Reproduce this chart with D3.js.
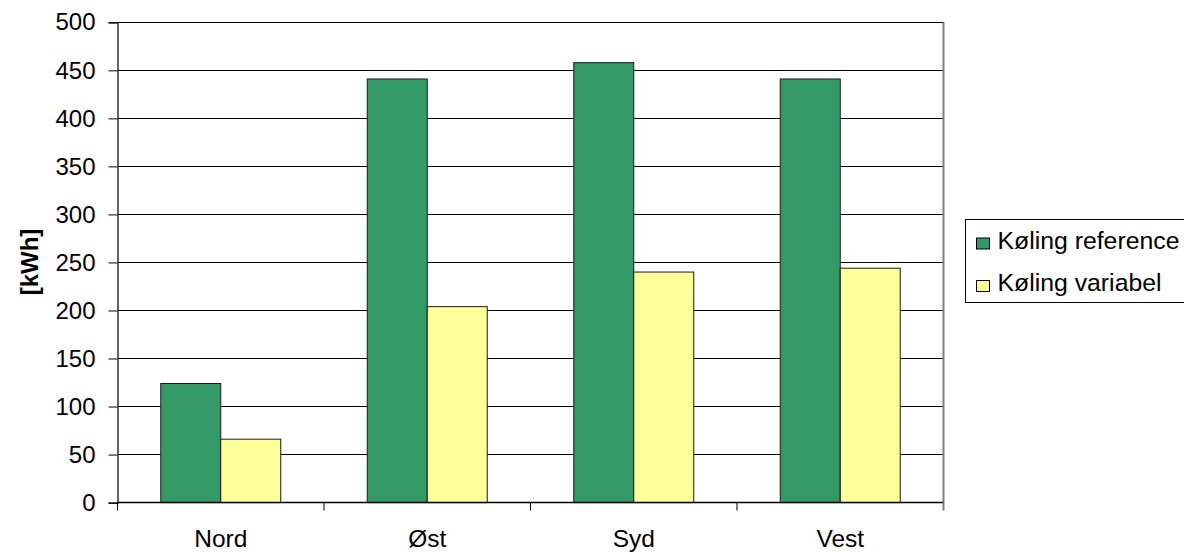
<!DOCTYPE html>
<html>
<head>
<meta charset="utf-8">
<script src="https://cdn.jsdelivr.net/npm/d3@7"></script>
<style>
  html, body { margin: 0; padding: 0; background: #fff; }
  svg { display: block; font-family: "Liberation Sans", Arial, sans-serif; }
</style>
</head>
<body>
<svg id="chart" width="1184" height="552"></svg>
<script>
// Cooling energy per facade orientation
const categories = ["Nord", "Øst", "Syd", "Vest"];
const seriesNames = ["Køling reference", "Køling variabel"];
const referenceValues = [124, 441, 458, 441];
const variableValues = [66, 204, 240, 244];
const yTicks = [0, 50, 100, 150, 200, 250, 300, 350, 400, 450, 500];
const seriesColors = ["#339966", "#FFFF99"];

const seriesValues = [referenceValues, variableValues];
const FONT = "'Liberation Sans', Arial, sans-serif";
const FS = 24;

const svg = d3.select("#chart");
const plot = { left: 117.5, right: 943.5, top: 22.3, bottom: 502.6 };

const x0 = d3.scaleBand().domain(categories).range([plot.left, plot.right]).padding(0);
const groupW = x0.bandwidth() * 0.581;
const x1 = d3.scaleBand().domain(seriesNames)
  .range([(x0.bandwidth() - groupW) / 2, (x0.bandwidth() + groupW) / 2]).padding(0);
const y = d3.scaleLinear().domain([0, 500]).range([plot.bottom, plot.top]);

// horizontal gridlines
svg.append("g").selectAll("line").data(yTicks.filter(d => d > 0)).join("line")
  .attr("x1", plot.left).attr("x2", plot.right)
  .attr("y1", d => y(d)).attr("y2", d => y(d))
  .attr("stroke", "#000").attr("stroke-width", 1).attr("shape-rendering", "crispEdges");

// right edge of plot area
svg.append("line")
  .attr("x1", plot.right).attr("x2", plot.right)
  .attr("y1", plot.top).attr("y2", plot.bottom)
  .attr("stroke", "#808080").attr("stroke-width", 2);

// bars
const groups = svg.append("g").selectAll("g").data(categories).join("g")
  .attr("transform", d => `translate(${x0(d)},0)`);
groups.selectAll("rect")
  .data((c, i) => seriesNames.map((s, j) => ({ s, j, v: seriesValues[j][i] })))
  .join("rect")
  .attr("x", d => x1(d.s))
  .attr("width", x1.bandwidth())
  .attr("y", d => y(d.v))
  .attr("height", d => y(0) - y(d.v))
  .attr("fill", d => seriesColors[d.j])
  .attr("stroke", "#1a1a1a").attr("stroke-width", 1);

// y axis
const yAxis = svg.append("g").attr("transform", `translate(${plot.left},0)`)
  .call(d3.axisLeft(y).tickValues(yTicks).tickSize(9).tickPadding(13));
yAxis.attr("font-size", FS).attr("font-family", FONT);
yAxis.select(".domain").attr("stroke", "#000").attr("stroke-width", 1.2);
yAxis.selectAll(".tick line").attr("stroke", "#000");
yAxis.selectAll("text").attr("fill", "#000");

// x axis: ticks at category boundaries
const xAxisG = svg.append("g");
xAxisG.append("line")
  .attr("x1", plot.left).attr("x2", plot.right)
  .attr("y1", plot.bottom).attr("y2", plot.bottom)
  .attr("stroke", "#000").attr("stroke-width", 1.5);
const boundaries = categories.map(c => x0(c)).concat([x0(categories[categories.length - 1]) + x0.bandwidth()]);
xAxisG.selectAll("line.tk").data(boundaries).join("line").attr("class", "tk")
  .attr("x1", d => d).attr("x2", d => d)
  .attr("y1", plot.bottom).attr("y2", plot.bottom + 8)
  .attr("stroke", (d, i) => i === boundaries.length - 1 ? "#808080" : "#000")
  .attr("stroke-width", (d, i) => i === boundaries.length - 1 ? 2 : 1);
xAxisG.selectAll("text").data(categories).join("text")
  .attr("x", d => x0(d) + x0.bandwidth() / 2)
  .attr("y", 547)
  .attr("text-anchor", "middle")
  .attr("font-size", 24.5).attr("font-family", FONT).attr("fill", "#000")
  .text(d => d);

// y axis title
svg.append("text")
  .attr("transform", "translate(38,262) rotate(-90)")
  .attr("text-anchor", "middle")
  .attr("font-size", FS).attr("font-family", FONT)
  .attr("font-weight", "bold").attr("fill", "#000")
  .text("[kWh]");

// legend
const legend = svg.append("g");
legend.append("rect")
  .attr("x", 965.5).attr("y", 219.5).attr("width", 240).attr("height", 83)
  .attr("fill", "#fff").attr("stroke", "#000").attr("stroke-width", 1);
const items = legend.selectAll("g").data(seriesNames).join("g")
  .attr("transform", (d, i) => `translate(0,${i * 42.5})`);
items.append("rect")
  .attr("x", 976.5).attr("y", 238).attr("width", 13).attr("height", 11)
  .attr("fill", (d, i) => seriesColors[i])
  .attr("stroke", "#000").attr("stroke-width", 1);
items.append("text")
  .attr("x", 997.5).attr("y", 248.5)
  .attr("font-size", 24.8).attr("font-family", FONT).attr("fill", "#000")
  .text(d => d);
</script>
</body>
</html>
